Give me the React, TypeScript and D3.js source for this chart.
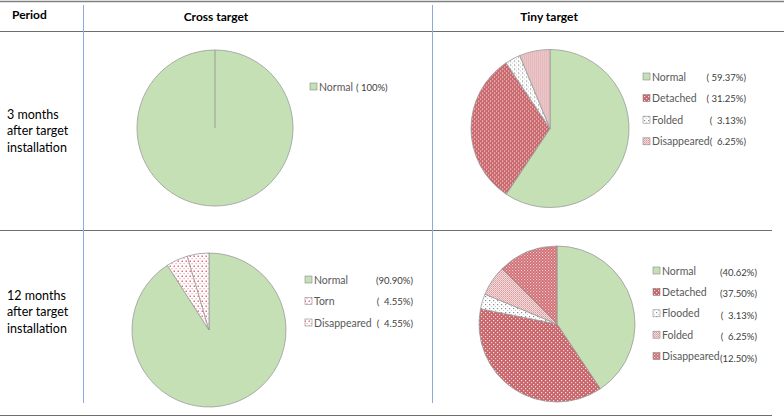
import React from 'react';
import * as d3 from 'd3';

// data
const crossLabels3 = ['Normal'];
const crossValues3 = [100];
const crossPct3 = ['( 100%)'];

const tinyLabels3 = ['Normal', 'Detached', 'Folded', 'Disappeared'];
const tinyValues3 = [59.37, 31.25, 3.13, 6.25];
const tinyPct3 = ['( 59.37%)', '( 31.25%)', '(  3.13%)', '(  6.25%)'];

const crossLabels12 = ['Normal', 'Torn', 'Disappeared'];
const crossValues12 = [90.9, 4.55, 4.55];
const crossPct12 = ['(90.90%)', '(  4.55%)', '(  4.55%)'];

const tinyLabels12 = ['Normal', 'Detached', 'Flooded', 'Folded', 'Disappeared'];
const tinyValues12 = [40.62, 37.5, 3.13, 6.25, 12.5];
const tinyPct12 = ['(40.62%)', '(37.50%)', '(  3.13%)', '(  6.25%)', '(12.50%)'];

const periods = [['3 months', 'after target', 'installation'], ['12 months', 'after target', 'installation']];
const columns = ['Period', 'Cross target', 'Tiny target'];

const fillFor: Record<string, string> = {
  Normal: '#c5e0b4',
  Detached: 'url(#redDots)',
  Folded: 'url(#pinkCheck)',
  Flooded: 'url(#greyDots)',
  Torn: 'url(#pinkDots)',
  Disappeared: 'url(#pinkCheck)',
};

const FONT = 'Lato, "Liberation Sans", Arial, sans-serif';

type PanelProps = {
  labels: string[];
  values: number[];
  pct: string[];
  cx: number;
  cy: number;
  r: number;
  lx: number;
  ly: number;
  step: number;
  px: number;
  pdy?: number;
  fills?: Record<string, string>;
  inline?: boolean;
};

const PiePanel = ({ labels, values, pct, cx, cy, r, lx, ly, step, px, pdy = 0, fills = {}, inline }: PanelProps) => {
  const pie = d3.pie<number>().sort(null).value(d => d);
  const arcs = pie(values);
  const arc = d3.arc<d3.PieArcDatum<number>>().innerRadius(0).outerRadius(r);
  const fill = (l: string) => fills[l] || fillFor[l];
  return (
    <g>
      <g transform={`translate(${cx},${cy})`}>
        {arcs.map((a, i) => (
          <path key={i} d={arc(a) || ''} fill={fill(labels[i])} stroke="#9a9a9a" strokeWidth={0.8} />
        ))}
        {arcs.length === 1 && (
          <line x1={0} y1={0} x2={r * Math.sin(arcs[0].startAngle)} y2={-r * Math.cos(arcs[0].startAngle)}
            stroke="#9a9a9a" strokeWidth={1} />
        )}
      </g>
      {labels.map((l, i) => {
        const y = ly + i * step;
        return (
          <g key={l + i}>
            <rect x={lx} y={y - 4} width={7} height={7} fill={fill(l)} stroke="#8a8a8a" strokeWidth={0.6} />
            <text x={lx + 9} y={y + 3.5} fontSize={10.5} fill="#595959" fontFamily={FONT}>{l}</text>
            <text x={px} y={y + 3.5 + pdy} fontSize={9.5} fill="#404040" fontFamily={FONT}
              textAnchor={inline ? 'start' : 'end'} style={{ whiteSpace: 'pre' }}>{pct[i]}</text>
          </g>
        );
      })}
    </g>
  );
};

const App = () => {
  return (
    <svg width={784} height={419} style={{ position: 'absolute', left: 0, top: 0, background: '#fff' }}>
      <defs>
        <pattern id="redDots" width={4} height={4} patternUnits="userSpaceOnUse">
          <rect width={4} height={4} fill="#c9666b" />
          <rect x={0} y={0} width={1.2} height={1.2} fill="#f7e3e4" />
          <rect x={2} y={2} width={1.2} height={1.2} fill="#f2d2d4" />
        </pattern>
        <pattern id="greyDots" width={4} height={4} patternUnits="userSpaceOnUse">
          <rect width={4} height={4} fill="#ffffff" />
          <rect x={0} y={0} width={1.2} height={1.2} fill="#8a8a8a" />
          <rect x={2} y={2} width={1} height={1} fill="#c4c4c4" />
        </pattern>
        <pattern id="pinkDots" width={4} height={5} patternUnits="userSpaceOnUse">
          <rect width={4} height={5} fill="#ffffff" />
          <rect x={0.5} y={0.5} width={1.5} height={1.5} fill="#e06f7c" />
          <rect x={2.5} y={3} width={1.2} height={1.2} fill="#eba3aa" />
        </pattern>
        <pattern id="pinkCheck" width={2} height={2} patternUnits="userSpaceOnUse">
          <rect width={2} height={2} fill="#f3dadb" />
          <rect x={0} y={0} width={1} height={1} fill="#d89a9e" />
          <rect x={1} y={1} width={1} height={1} fill="#e2b2b5" />
        </pattern>
        <pattern id="redCheck" width={3} height={3} patternUnits="userSpaceOnUse">
          <rect width={3} height={3} fill="#cf6a70" />
          <rect x={0} y={0} width={1.2} height={1.2} fill="#f1cdd0" />
          <rect x={1.5} y={1.5} width={1.2} height={1.2} fill="#eab8bb" />
        </pattern>
      </defs>

      {/* table rules */}
      <line x1={0} x2={784} y1={1.5} y2={1.5} stroke="#808080" strokeWidth={1.5} />
      <line x1={0} x2={784} y1={31.5} y2={31.5} stroke="#6f6f6f" strokeWidth={1} />
      <line x1={0} x2={772} y1={230.5} y2={230.5} stroke="#6f6f6f" strokeWidth={1} />
      <line x1={0} x2={772} y1={415.5} y2={415.5} stroke="#6f6f6f" strokeWidth={1} />
      <line x1={83.5} x2={83.5} y1={5} y2={403} stroke="#8eaadb" strokeWidth={1} />
      <line x1={432.5} x2={432.5} y1={5} y2={403} stroke="#8eaadb" strokeWidth={1} />

      {/* header */}
      <text x={12} y={19} fontSize={12} fontWeight="bold" fontFamily={FONT} fill="#000">{columns[0]}</text>
      <text x={216} y={21} fontSize={12} fontWeight="bold" fontFamily={FONT} fill="#000" textAnchor="middle">{columns[1]}</text>
      <text x={549} y={21} fontSize={12} fontWeight="bold" fontFamily={FONT} fill="#000" textAnchor="middle">{columns[2]}</text>

      {/* period labels */}
      {periods.map((lines, k) => (
        <text key={k} x={7} y={k === 0 ? 119 : 300} fontSize={12.5} fontFamily={FONT} fill="#000">
          {lines.map((s, j) => (
            <tspan key={j} x={7} dy={j === 0 ? 0 : 16.3}>{s}</tspan>
          ))}
        </text>
      ))}

      <PiePanel labels={crossLabels3} values={crossValues3} pct={crossPct3}
        cx={215} cy={128} r={78} lx={310} ly={87} step={21} px={356} inline />
      <PiePanel labels={tinyLabels3} values={tinyValues3} pct={tinyPct3}
        cx={550} cy={128.5} r={79} lx={643} ly={77} step={21.6} px={746}
        fills={{ Folded: 'url(#greyDots)' }} />
      <PiePanel labels={crossLabels12} values={crossValues12} pct={crossPct12}
        cx={209} cy={330} r={77} lx={305} ly={280} step={21.5} px={413}
        fills={{ Disappeared: 'url(#pinkDots)' }} />
      <PiePanel labels={tinyLabels12} values={tinyValues12} pct={tinyPct12}
        cx={557} cy={324} r={78} lx={653} ly={271} step={21.4} px={757} pdy={1.5}
        fills={{ Disappeared: 'url(#redCheck)' }} />
    </svg>
  );
};

export default App;
